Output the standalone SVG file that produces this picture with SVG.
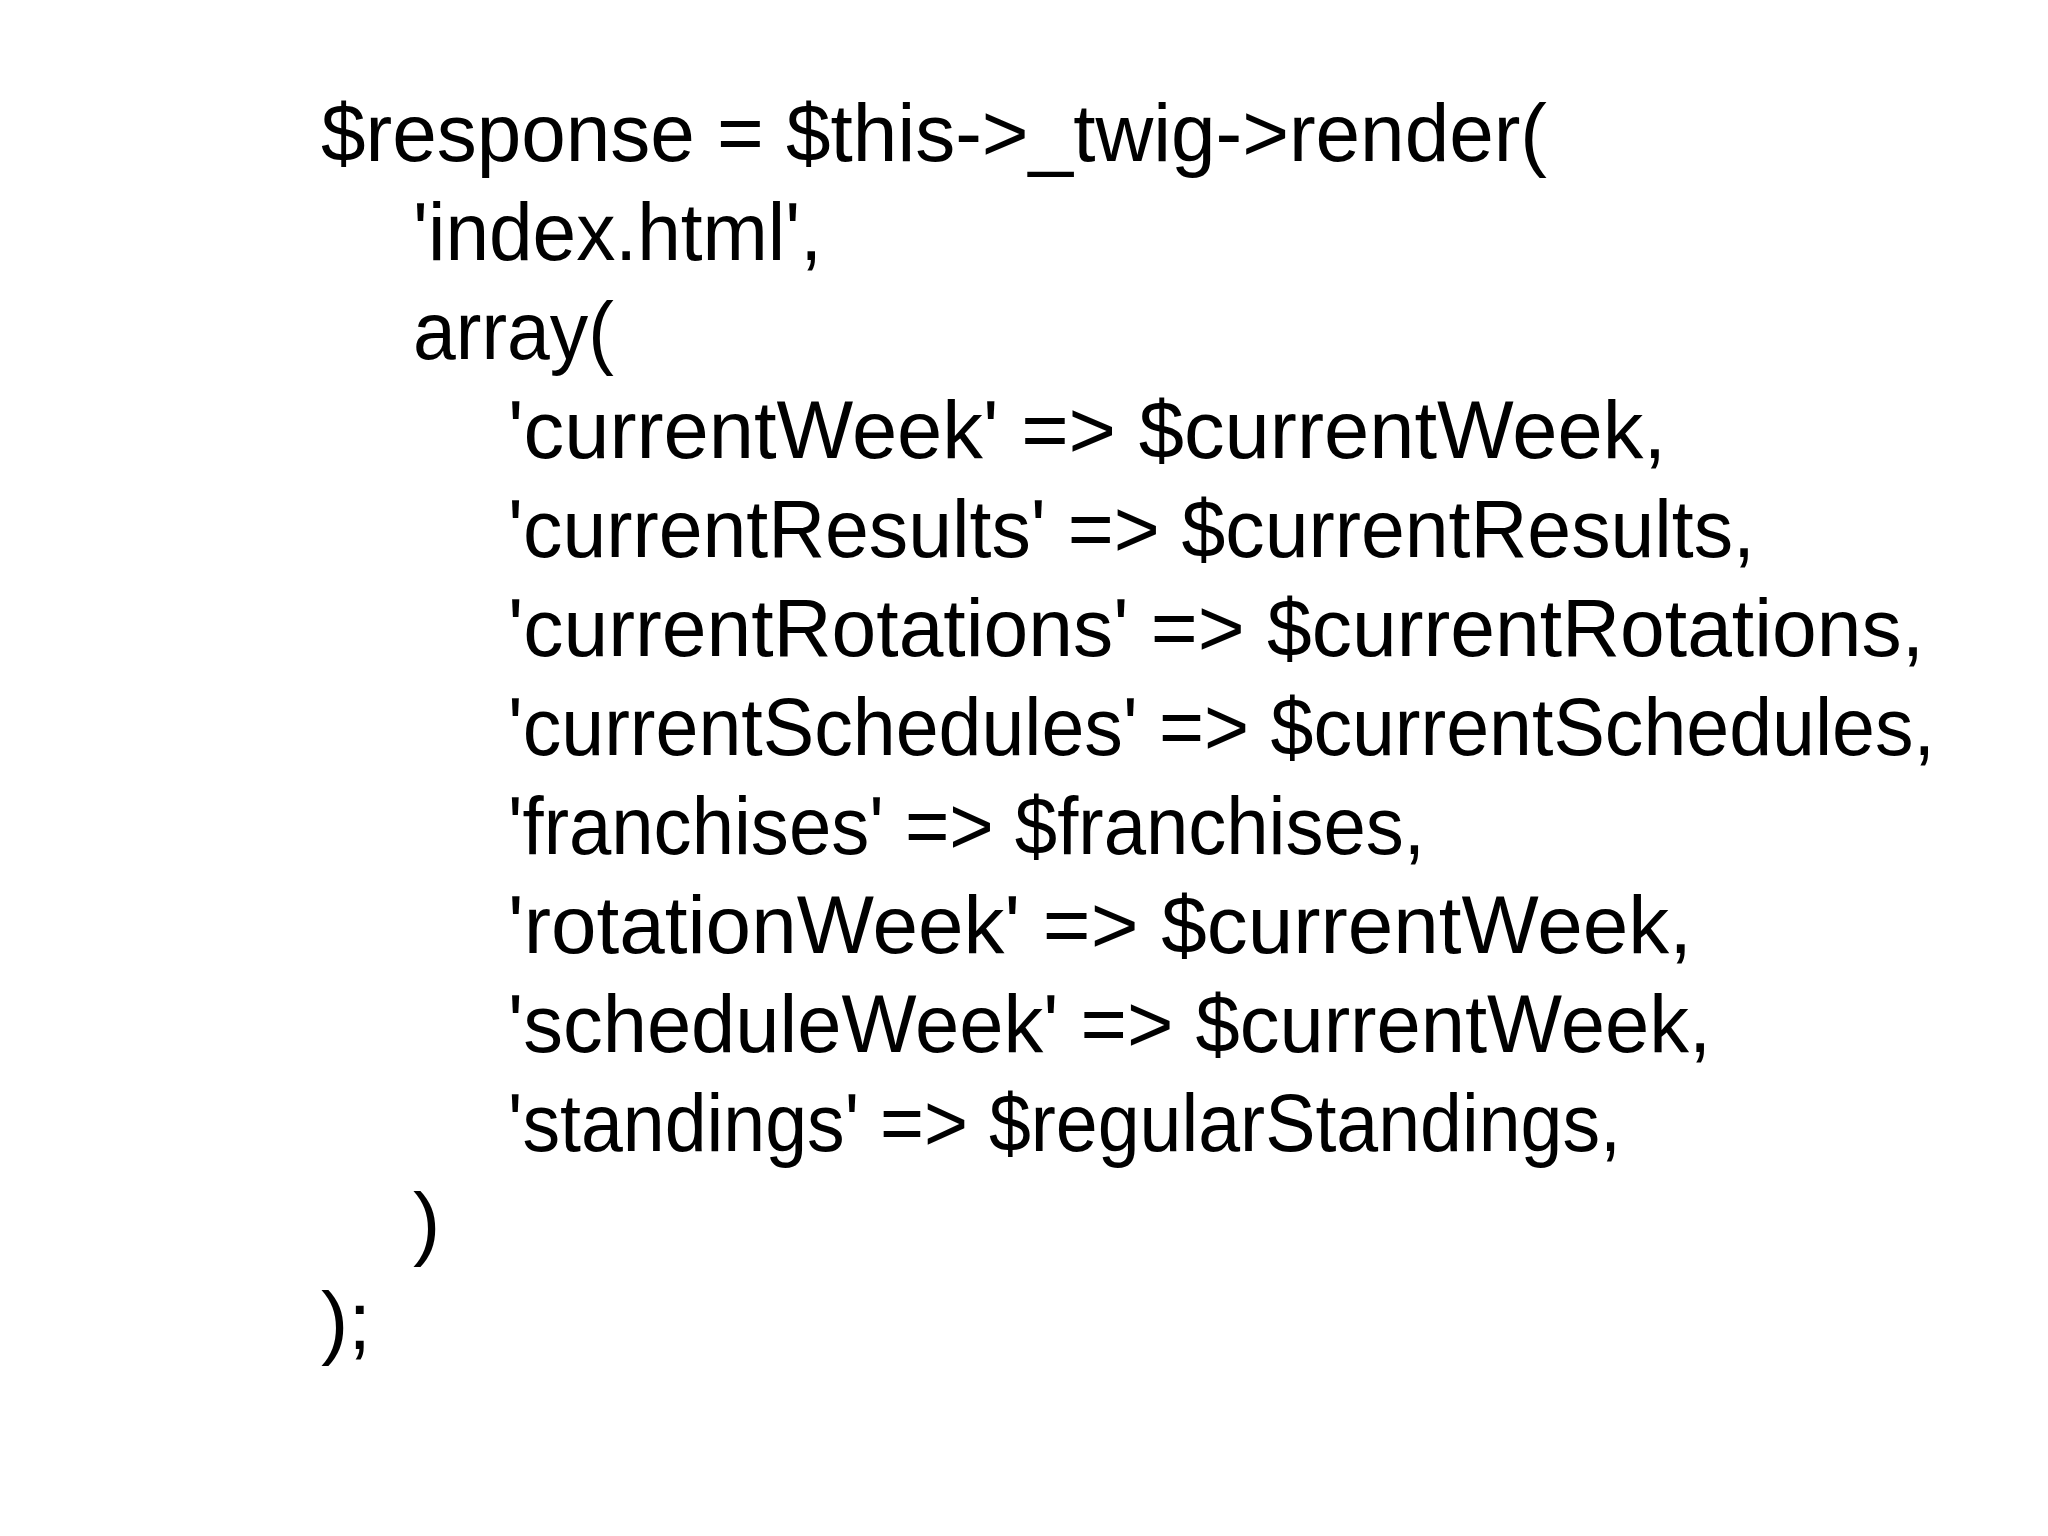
<svg xmlns="http://www.w3.org/2000/svg" width="2048" height="1536" viewBox="0 0 2048 1536">
<style>text{font-family:"Liberation Sans","DejaVu Sans",sans-serif;font-size:82px;fill:#000}</style>
<rect width="2048" height="1536" fill="#fff"/>
<g id="code">
<text x="321" y="161" textLength="1226" lengthAdjust="spacingAndGlyphs">$response = $this-&gt;_twig-&gt;render(</text>
<text x="413" y="260" textLength="409" lengthAdjust="spacingAndGlyphs">'index.html',</text>
<text x="413" y="359" textLength="201" lengthAdjust="spacingAndGlyphs">array(</text>
<text x="508" y="458" textLength="1158" lengthAdjust="spacingAndGlyphs">'currentWeek' =&gt; $currentWeek,</text>
<text x="508" y="557" textLength="1247" lengthAdjust="spacingAndGlyphs">'currentResults' =&gt; $currentResults,</text>
<text x="508" y="656" textLength="1416" lengthAdjust="spacingAndGlyphs">'currentRotations' =&gt; $currentRotations,</text>
<text x="508" y="755" textLength="1427" lengthAdjust="spacingAndGlyphs">'currentSchedules' =&gt; $currentSchedules,</text>
<text x="508" y="854" textLength="917" lengthAdjust="spacingAndGlyphs">'franchises' =&gt; $franchises,</text>
<text x="508" y="953" textLength="1184" lengthAdjust="spacingAndGlyphs">'rotationWeek' =&gt; $currentWeek,</text>
<text x="508" y="1052" textLength="1203" lengthAdjust="spacingAndGlyphs">'scheduleWeek' =&gt; $currentWeek,</text>
<text x="508" y="1151" textLength="1113" lengthAdjust="spacingAndGlyphs">'standings' =&gt; $regularStandings,</text>
<text x="413" y="1250">)</text>
<text x="321" y="1349">);</text>
</g>
</svg>
